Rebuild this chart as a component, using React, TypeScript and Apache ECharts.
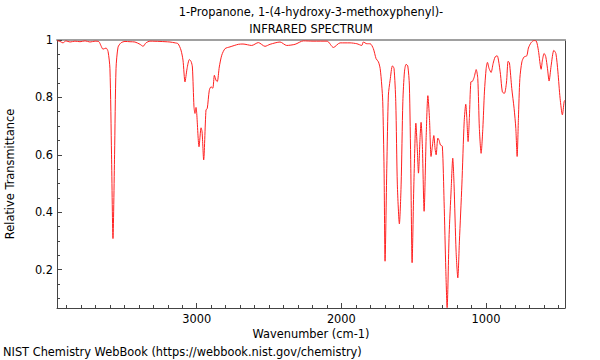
import React, { useEffect, useRef } from "react";
import * as echarts from "echarts";

const titleLine1 = "1-Propanone, 1-(4-hydroxy-3-methoxyphenyl)-";
const titleLine2 = "INFRARED SPECTRUM";
const footer = "NIST Chemistry WebBook (https://webbook.nist.gov/chemistry)";
const xName = "Wavenumber (cm-1)";
const yName = "Relative Transmittance";

const xMajorTicks = [1000, 2000, 3000];
const yMajorTicks = [0.2, 0.4, 0.6, 0.8, 1];
const xRange = [454, 3966];
const yRange = [0.066, 1];

const wavenumbers = [
  3966, 3945, 3925, 3904, 3876, 3842, 3807, 3772, 3738, 3703, 3676, 3662, 3648, 3627, 3613,
  3600, 3589, 3579, 3568, 3558, 3544, 3524, 3496, 3461, 3427, 3392, 3371, 3351, 3323, 3254,
  3185, 3150, 3129, 3109, 3095, 3081, 3067, 3051, 3039, 3030, 3019, 3012, 3005, 3000, 2984,
  2970, 2963, 2952, 2936, 2927, 2913, 2901, 2889, 2878, 2867, 2858, 2844, 2827, 2804, 2770,
  2712, 2680, 2620, 2574, 2528, 2493, 2424, 2378, 2320, 2263, 2196, 2099, 2055, 2009, 1940,
  1893, 1859, 1848, 1824, 1801, 1779, 1760, 1744, 1732, 1721, 1714, 1705, 1698, 1686, 1675,
  1663, 1647, 1636, 1624, 1613, 1599, 1587, 1575, 1564, 1553, 1541, 1530, 1520, 1511, 1499,
  1485, 1476, 1467, 1456, 1449, 1440, 1428, 1414, 1402, 1391, 1380, 1371, 1361, 1352, 1345,
  1333, 1324, 1315, 1302, 1290, 1278, 1269, 1255, 1241, 1230, 1221, 1207, 1195, 1184, 1167,
  1151, 1140, 1133, 1124, 1115, 1105, 1094, 1082, 1068, 1057, 1046, 1034, 1022, 1011, 999,
  990, 979, 965, 951, 937, 923, 914, 900, 887, 873, 859, 847, 838, 822, 806,
  794, 785, 776, 766, 752, 737, 718, 707, 688, 669, 652, 638, 619, 610, 598,
  587, 575, 564, 550, 531, 517, 503, 488, 472, 460, 455,
];

const transmittance = [
  0.998, 0.995, 0.99, 0.997, 0.993, 0.996, 0.994, 0.997, 0.993, 0.996, 0.994, 0.98, 0.968, 0.972, 0.96,
  0.9, 0.6, 0.308, 0.6, 0.9, 0.975, 0.99, 0.995, 0.994, 0.993, 0.985, 0.978, 0.99, 0.996, 0.995,
  0.993, 0.99, 0.987, 0.965, 0.93, 0.854, 0.9, 0.932, 0.925, 0.906, 0.767, 0.744, 0.765, 0.744, 0.628,
  0.694, 0.68, 0.582, 0.756, 0.762, 0.825, 0.837, 0.832, 0.877, 0.86, 0.855, 0.906, 0.947, 0.97, 0.976,
  0.985, 0.986, 0.981, 0.991, 0.978, 0.985, 0.993, 0.981, 0.985, 0.997, 0.996, 0.996, 0.974, 0.99, 0.99,
  0.987, 0.981, 0.993, 0.987, 0.987, 0.97, 0.935, 0.924, 0.901, 0.843, 0.785, 0.553, 0.229, 0.553, 0.808,
  0.86, 0.91, 0.901, 0.785, 0.495, 0.359, 0.495, 0.785, 0.889, 0.915, 0.91, 0.843, 0.553, 0.224, 0.495,
  0.71, 0.63, 0.536, 0.66, 0.713, 0.63, 0.403, 0.66, 0.806, 0.727, 0.594, 0.63, 0.667, 0.62, 0.6,
  0.658, 0.65, 0.634, 0.63, 0.438, 0.2, 0.067, 0.322, 0.48, 0.588, 0.495, 0.264, 0.171, 0.299, 0.495,
  0.715, 0.776, 0.73, 0.646, 0.73, 0.854, 0.856, 0.87, 0.897, 0.866, 0.692, 0.605, 0.692, 0.819, 0.901,
  0.922, 0.901, 0.887, 0.918, 0.941, 0.945, 0.93, 0.88, 0.819, 0.814, 0.85, 0.926, 0.92, 0.831, 0.762,
  0.692, 0.594, 0.727, 0.866, 0.924, 0.941, 0.945, 0.972, 0.991, 0.998, 0.996, 0.964, 0.898, 0.93, 0.953,
  0.942, 0.9, 0.857, 0.91, 0.964, 0.953, 0.889, 0.797, 0.739, 0.785, 0.79,
];

const FONT = "DejaVu Sans";
const FS = 11.4;

export default function App() {
  const ref = useRef<HTMLDivElement>(null);

  useEffect(() => {
    if (!ref.current) return;
    const chart = echarts.init(ref.current, undefined, { renderer: "svg" });

    const xMinor: number[] = [];
    for (let v = 500; v <= 3900; v += 100) if (v % 1000 !== 0) xMinor.push(v);
    const yMinor: number[] = [];
    for (let k = 2; k <= 20; k++) {
      const v = Math.round(k * 5) / 100;
      if (Math.round(v * 100) % 20 !== 0) yMinor.push(v);
    }

    const data = wavenumbers.map((w, i) => [w, transmittance[i]]);
    const axisColor = "#444";
    const txt = { fontFamily: FONT, fontSize: FS, fontWeight: "normal", color: "#000" };

    chart.setOption({
      animation: false,
      backgroundColor: "#fff",
      textStyle: { fontFamily: FONT },
      title: [
        { text: titleLine1, left: 311, top: 6, padding: 0, textAlign: "center", textStyle: txt },
        { text: titleLine2, left: 311, top: 23, padding: 0, textAlign: "center", textStyle: txt },
        { text: footer, left: 3, top: 346, padding: 0, textStyle: txt },
      ],
      grid: { left: 57, right: 35, top: 40, bottom: 52, containLabel: false, outerBoundsMode: "none" },
      xAxis: [
        {
          type: "value",
          inverse: true,
          min: xRange[0],
          max: xRange[1],
          position: "bottom",
          name: xName,
          nameLocation: "middle",
          nameGap: 19,
          nameTextStyle: { fontFamily: FONT, fontSize: FS, color: "#000" },
          axisLine: { show: true, lineStyle: { color: axisColor, width: 1 } },
          axisTick: { show: true, inside: true, length: 5, customValues: xMajorTicks, lineStyle: { color: axisColor } },
          axisLabel: {
            show: true,
            customValues: xMajorTicks,
            margin: 5,
            fontFamily: FONT,
            fontSize: FS,
            color: "#000",
            formatter: (v: number) => String(v),
          },
          splitLine: { show: false },
        },
        {
          type: "value",
          inverse: true,
          min: xRange[0],
          max: xRange[1],
          position: "bottom",
          axisLine: { show: false },
          axisTick: { show: true, inside: true, length: 3, customValues: xMinor, lineStyle: { color: axisColor } },
          axisLabel: { show: false },
          splitLine: { show: false },
        },
        {
          type: "value",
          inverse: true,
          min: xRange[0],
          max: xRange[1],
          position: "top",
          axisLine: { show: true, lineStyle: { color: "#a0a0a0", width: 2 } },
          axisTick: { show: false },
          axisLabel: { show: false },
          splitLine: { show: false },
        },
      ],
      yAxis: [
        {
          type: "value",
          min: yRange[0],
          max: yRange[1],
          position: "left",
          name: yName,
          nameLocation: "middle",
          nameGap: 42,
          nameRotate: 90,
          nameTextStyle: { fontFamily: FONT, fontSize: FS, color: "#000" },
          axisLine: { show: true, lineStyle: { color: axisColor, width: 1 } },
          axisTick: { show: true, inside: true, length: 5, customValues: yMajorTicks, lineStyle: { color: axisColor } },
          axisLabel: {
            show: true,
            customValues: yMajorTicks,
            margin: 4,
            fontFamily: FONT,
            fontSize: FS,
            color: "#000",
            formatter: (v: number) => String(Math.round(v * 10) / 10),
          },
          splitLine: { show: false },
        },
        {
          type: "value",
          min: yRange[0],
          max: yRange[1],
          position: "left",
          axisLine: { show: false },
          axisTick: { show: true, inside: true, length: 3, customValues: yMinor, lineStyle: { color: axisColor } },
          axisLabel: { show: false },
          splitLine: { show: false },
        },
        {
          type: "value",
          min: yRange[0],
          max: yRange[1],
          position: "right",
          axisLine: { show: true, lineStyle: { color: axisColor, width: 1 } },
          axisTick: { show: false },
          axisLabel: { show: false },
          splitLine: { show: false },
        },
      ],
      series: [
        {
          type: "line",
          xAxisIndex: 0,
          yAxisIndex: 0,
          data,
          showSymbol: false,
          symbol: "none",
          smooth: 0.25,
          lineStyle: { color: "#ff2020", width: 1 },
          z: 1,
        },
      ],
    });

    return () => chart.dispose();
  }, []);

  return (
    <div
      ref={ref}
      style={{ position: "fixed", left: 0, top: 0, width: 600, height: 360 }}
    />
  );
}
